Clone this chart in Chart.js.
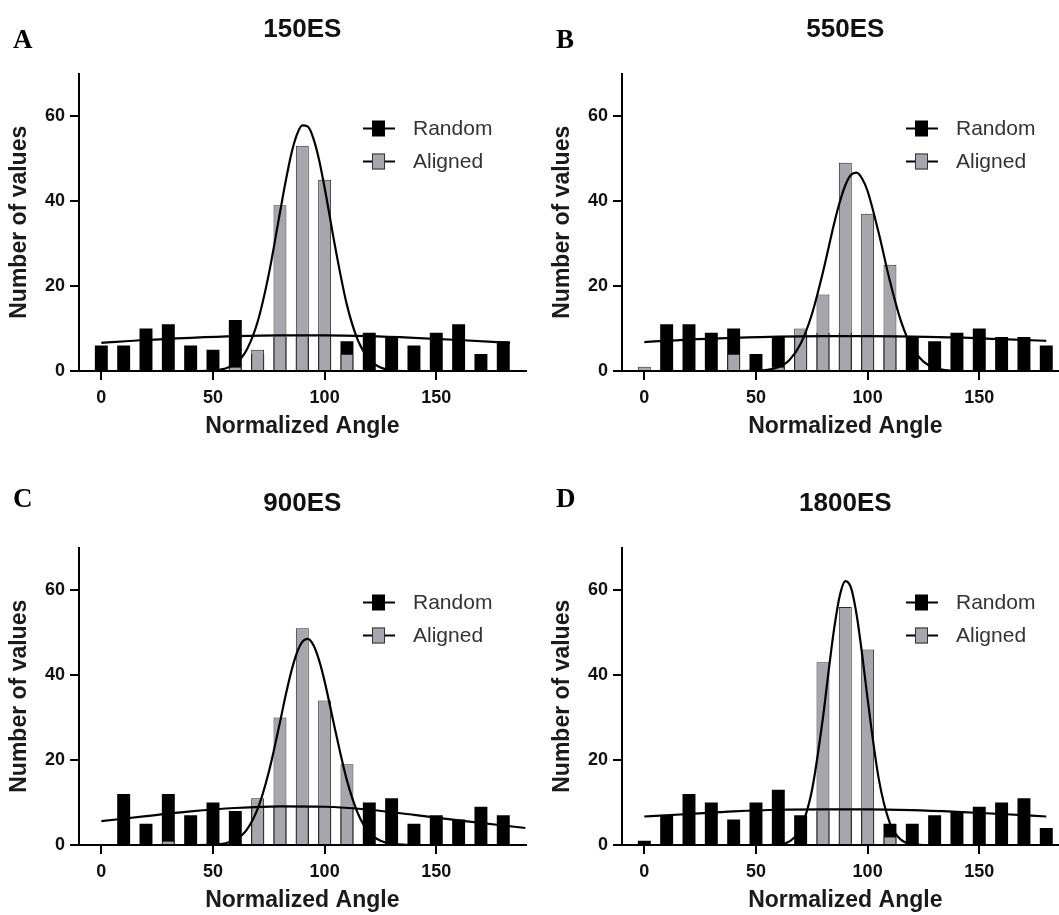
<!DOCTYPE html>
<html>
<head>
<meta charset="utf-8">
<script src="https://cdn.jsdelivr.net/npm/chart.js@4.4.1/dist/chart.umd.min.js"></script>
<style>
  html, body { margin: 0; padding: 0; background: #fff; overflow: hidden; width: 1059px; height: 915px; }
  .panel { position: absolute; width: 540px; height: 440px; }
</style>
</head>
<body>
<div class="panel" style="left:0px;top:0px"><canvas id="chartA" width="540" height="440"></canvas></div>
<div class="panel" style="left:543px;top:0px"><canvas id="chartB" width="540" height="440"></canvas></div>
<div class="panel" style="left:0px;top:474px"><canvas id="chartC" width="540" height="440"></canvas></div>
<div class="panel" style="left:543px;top:474px"><canvas id="chartD" width="540" height="440"></canvas></div>
<script>
// histogram bins (normalized angle) and axis ticks
const bins = [0, 10, 20, 30, 40, 50, 60, 70, 80, 90, 100, 110, 120, 130, 140, 150, 160, 170, 180];
const xTicks = [0, 50, 100, 150];
const yTicks = [0, 20, 40, 60];

// bar counts per bin
const random150  = [6, 6, 10, 11, 6, 5, 12, 4, 8, 8, 8, 7, 9, 8, 6, 9, 11, 4, 7];
const aligned150 = [0, 0, 0, 0, 0, 0, 1, 5, 39, 53, 45, 4, 0, 0, 0, 0, 0, 0, 0];
const random550  = [0, 11, 11, 9, 10, 4, 8, 8, 9, 9, 8, 8, 8, 7, 9, 10, 8, 8, 6];
const aligned550 = [1, 0, 0, 0, 4, 0, 1, 10, 18, 49, 37, 25, 0, 0, 0, 0, 0, 0, 0];
const random900  = [0, 12, 5, 12, 7, 10, 8, 9, 9, 9, 9, 9, 10, 11, 5, 7, 6, 9, 7];
const aligned900 = [0, 0, 0, 1, 0, 0, 0, 11, 30, 51, 34, 19, 0, 0, 0, 0, 0, 0, 0];
const random1800  = [1, 7, 12, 10, 6, 10, 13, 7, 8, 8, 8, 5, 5, 7, 8, 9, 10, 11, 4];
const aligned1800 = [0, 0, 0, 0, 0, 0, 0, 0, 43, 56, 46, 2, 0, 0, 0, 0, 0, 0, 0];

// fitted curves
const fitX = [0, 40, 50, 55, 60, 65, 70, 75, 80, 82.5, 85, 87.5, 90, 92.5, 95, 97.5, 100, 105, 110, 115, 120, 125, 130, 135, 140, 180];
const fitAligned150  = [0, 0, 0.1, 0.5, 1.7, 4.9, 11.6, 22.8, 37.3, 44.5, 50.9, 55.5, 57.8, 57.5, 54.7, 49.7, 43.1, 28.4, 15.5, 7.1, 2.7, 0.85, 0.2, 0, 0, 0];
const fitAligned550  = [0, 0, 0.1, 0.3, 0.9, 2.6, 6.4, 13.3, 23.3, 29.0, 34.7, 39.7, 43.7, 46.1, 46.7, 45.3, 42.3, 32.4, 21.1, 11.6, 5.4, 2.2, 0.7, 0.2, 0, 0];
const fitAligned900  = [0, 0, 0.1, 0.35, 1.2, 3.5, 8.5, 17.2, 28.9, 35.1, 40.7, 45.1, 47.8, 48.5, 47.0, 43.5, 38.5, 26.4, 15.2, 7.3, 2.9, 1.0, 0.3, 0.1, 0, 0];
const fitAligned1800 = [0, 0, 0, 0, 0.13, 0.85, 3.9, 12.7, 30.0, 40.8, 50.9, 58.6, 62.1, 60.6, 54.4, 45.0, 34.3, 15.5, 5.1, 1.2, 0.2, 0, 0, 0, 0, 0];

const fitRandomX150  = [0, 20, 40, 60, 80, 100, 120, 140, 160, 183];
const fitRandom150   = [6.6, 7.3, 7.8, 8.2, 8.4, 8.4, 8.2, 7.8, 7.3, 6.6];
const fitRandomX550  = [0, 20, 40, 60, 80, 100, 120, 140, 160, 180];
const fitRandom550   = [6.8, 7.4, 7.8, 8.1, 8.2, 8.2, 8.1, 7.9, 7.5, 7.1];
const fitRandomX900  = [0, 20, 40, 60, 80, 100, 120, 140, 160, 190];
const fitRandom900   = [5.6, 6.8, 7.9, 8.7, 9.1, 9.0, 8.3, 7.1, 5.8, 4.0];
const fitRandomX1800 = [0, 20, 40, 60, 80, 100, 120, 140, 160, 180];
const fitRandom1800  = [6.7, 7.3, 7.9, 8.3, 8.4, 8.4, 8.2, 7.8, 7.3, 6.7];

const GRAY = '#a6a6ac';
const SANS = '"Liberation Sans", Arial, Helvetica, sans-serif';

function points(xs, ys, dropZero) {
	return xs.map((x, i) => ({ x: x, y: (dropZero && ys[i] === 0) ? null : ys[i] }));
}

// panel letter, title and the "-■-" legend
const panelText = {
	id: 'panelText',
	afterDraw: (chart, args, opts) => {
		const { ctx, chartArea } = chart;
		ctx.save();
		ctx.fillStyle = '#000';
		ctx.textBaseline = 'alphabetic';
		ctx.textAlign = 'left';
		ctx.font = 'bold 27px "Liberation Serif", "Times New Roman", serif';
		ctx.fillText(opts.letter, 13, opts.letterY);

		ctx.textAlign = 'center';
		ctx.font = 'bold 26px ' + SANS;
		ctx.fillStyle = '#111';
		ctx.fillText(opts.title, (chartArea.left + chartArea.right) / 2, 37);

		const bars = chart.data.datasets.filter(d => d.type == 'bar');
		bars.forEach((ds, i) => {
			const y = chartArea.top + 55 + i * 33;
			const x0 = chartArea.left + 284;
			ctx.strokeStyle = '#000';
			ctx.lineWidth = 2;
			ctx.beginPath();
			ctx.moveTo(x0, y);
			ctx.lineTo(x0 + 32, y);
			ctx.stroke();
			ctx.fillStyle = ds.backgroundColor;
			ctx.fillRect(x0 + 9, y - 8, 13, 16);
			if (ds.borderWidth) {
				ctx.lineWidth = 1;
				ctx.strokeStyle = '#333';
				ctx.strokeRect(x0 + 9.5, y - 7.5, 12, 15);
			}
			ctx.fillStyle = '#333';
			ctx.font = '21px ' + SANS;
			ctx.textAlign = 'left';
			ctx.textBaseline = 'middle';
			ctx.fillText(ds.label, chartArea.left + 334, y + 1);
		});
		ctx.restore();
	},
};

function makeChart(id, letter, letterY, title, random, aligned, fitAligned, fitRandomX, fitRandom) {
	let data = {
		datasets: [
			{
				type: 'line',
				label: 'Random fit',
				data: points(fitRandomX, fitRandom, false),
				borderColor: '#000',
				borderWidth: 2.2,
				pointRadius: 0,
				cubicInterpolationMode: 'monotone',
				order: 0,
			},
			{
				type: 'line',
				label: 'Aligned fit',
				data: points(fitX, fitAligned, false),
				borderColor: '#000',
				borderWidth: 2.2,
				pointRadius: 0,
				cubicInterpolationMode: 'monotone',
				order: 0,
			},
			{
				type: 'bar',
				label: 'Random',
				data: points(bins, random, true),
				backgroundColor: '#000',
				borderWidth: 0,
				grouped: false,
				barPercentage: 0.58,
				categoryPercentage: 1,
				order: 3,
			},
			{
				type: 'bar',
				label: 'Aligned',
				data: points(bins, aligned, true),
				backgroundColor: GRAY,
				borderColor: '#2b2b2b',
				borderWidth: 1,
				grouped: false,
				barPercentage: 0.58,
				categoryPercentage: 1,
				order: 2,
			},
		],
	};

	let axisGrid = {
		display: true,
		offset: false,
		drawOnChartArea: false,
		drawTicks: true,
		tickLength: 9,
		color: '#000',
		lineWidth: 2,
	};

	let config = {
		type: 'bar',
		data: data,
		options: {
			responsive: false,
			animation: false,
			devicePixelRatio: 1,
			layout: { padding: { top: 73.5, right: 14.4, left: 0, bottom: 0 } },
			plugins: {
				legend: { display: false },
				tooltip: { enabled: false },
				panelText: { letter: letter, letterY: letterY, title: title },
			},
			scales: {
				x: {
					type: 'linear',
					min: -10,
					max: 190,
					offset: false,
					grid: axisGrid,
					border: { display: true, color: '#000', width: 2 },
					ticks: { color: '#111', padding: 7, font: { family: SANS, size: 18, weight: 'bold' } },
					afterBuildTicks: s => { s.ticks = xTicks.map(v => ({ value: v })); },
					afterFit: s => { s.height = 69; },
					title: {
						display: true,
						text: 'Normalized Angle',
						color: '#1a1a1a',
						font: { family: SANS, size: 23, weight: 'bold' },
						padding: { top: 0, bottom: 0 },
					},
				},
				y: {
					min: 0,
					max: 70,
					grid: axisGrid,
					border: { display: true, color: '#000', width: 2 },
					ticks: { color: '#111', padding: 5, font: { family: SANS, size: 18, weight: 'bold' } },
					afterBuildTicks: s => { s.ticks = yTicks.map(v => ({ value: v })); },
					afterFit: s => { s.width = 79; },
					title: {
						display: true,
						text: 'Number of values',
						color: '#1a1a1a',
						font: { family: SANS, size: 23, weight: 'bold' },
						padding: { top: 6, bottom: 0 },
					},
				},
			},
		},
		plugins: [panelText],
	};
	return new Chart(document.getElementById(id), config);
}

makeChart('chartA', 'A', 48, '150ES', random150, aligned150, fitAligned150, fitRandomX150, fitRandom150);
makeChart('chartB', 'B', 48, '550ES', random550, aligned550, fitAligned550, fitRandomX550, fitRandom550);
makeChart('chartC', 'C', 33, '900ES', random900, aligned900, fitAligned900, fitRandomX900, fitRandom900);
makeChart('chartD', 'D', 33, '1800ES', random1800, aligned1800, fitAligned1800, fitRandomX1800, fitRandom1800);
</script>
</body>
</html>
